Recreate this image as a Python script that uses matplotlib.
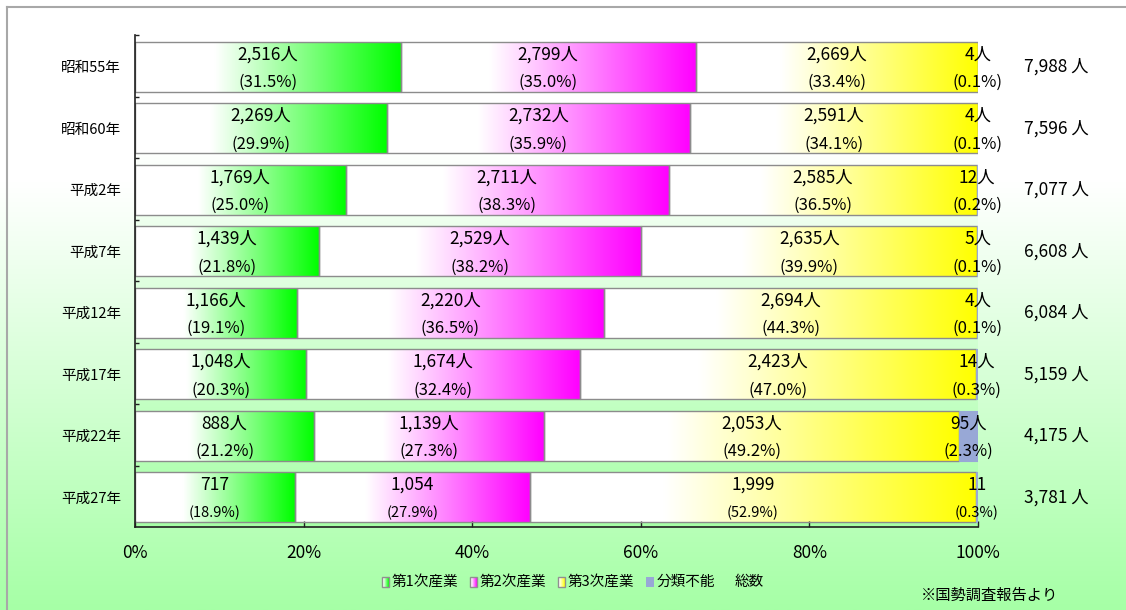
import numpy as np
import matplotlib
matplotlib.use("Agg")
import matplotlib.pyplot as plt
from matplotlib.colors import to_rgb
from matplotlib.patches import Rectangle

# ---------------- data ----------------
years = ['昭和55年', '昭和60年', '平成2年', '平成7年', '平成12年', '平成17年', '平成22年', '平成27年']
primary = [2516, 2269, 1769, 1439, 1166, 1048, 888, 717]
secondary = [2799, 2732, 2711, 2529, 2220, 1674, 1139, 1054]
tertiary = [2669, 2591, 2585, 2635, 2694, 2423, 2053, 1999]
unknown = [4, 4, 12, 5, 4, 14, 95, 11]
totals = [7988, 7596, 7077, 6608, 6084, 5159, 4175, 3781]
pct_primary = [31.5, 29.9, 25.0, 21.8, 19.1, 20.3, 21.2, 18.9]
pct_secondary = [35.0, 35.9, 38.3, 38.2, 36.5, 32.4, 27.3, 27.9]
pct_tertiary = [33.4, 34.1, 36.5, 39.9, 44.3, 47.0, 49.2, 52.9]
pct_unknown = [0.1, 0.1, 0.2, 0.1, 0.1, 0.3, 2.3, 0.3]
count_suffix = ['人', '人', '人', '人', '人', '人', '人', '']
x_ticks = [0, 20, 40, 60, 80, 100]
legend_labels = ['第1次産業', '第2次産業', '第3次産業', '分類不能', '総数']
source_note = '※国勢調査報告より'

# ---------------- style ----------------
W, H = 1126, 610
AX_L, AX_R, AX_T, AX_B = 135, 978, 35, 527
C_GREEN, C_PINK, C_YELLOW, C_UNK = '#00ff00', '#ff00ff', '#ffff00', '#98a8d6'
EDGE = '#8c8c8c'
NARROW = ['Noto Sans CJK JP', 'DejaVu Sans']
CJK = ['Noto Sans CJK JP', 'DejaVu Sans']
BAR_H = 0.81
BAR_OFF = 0.015


def grad_row(color, n=256, start=0.3):
    c = np.array(to_rgb(color))
    t = np.linspace(0, 1, n)
    f = np.clip((t - start) / (1 - start), 0, 1)[:, None]
    return (np.ones(3) * (1 - f) + c * f)[None, :, :]


def vgrad(n, start, bottom_rgb):
    c = np.array(bottom_rgb) / 255.0
    t = np.linspace(0, 1, n)
    f = np.clip((t - start) / (1 - start), 0, 1)[:, None]
    col = np.ones(3) * (1 - f) + c * f
    return col[:, None, :]


fig = plt.figure(figsize=(W / 100, H / 100), dpi=100)

# background overlay axes in pixel coords
bg = fig.add_axes([0, 0, 1, 1], zorder=0)
bg.set_xlim(0, W)
bg.set_ylim(H, 0)
bg.axis('off')
bg.imshow(vgrad(400, 0.3, (166, 255, 166)), extent=[0, W, H, 0], aspect='auto', interpolation='bilinear')
bg.imshow(vgrad(400, 0.23, (166, 255, 166)), extent=[AX_L, AX_R, AX_B, AX_T], aspect='auto', interpolation='bilinear')
bg.plot([7, W], [7, 7], color='#a8a8a8', lw=1.5)
bg.plot([7, 7], [7, H], color='#a8a8a8', lw=1.5)
bg.set_xlim(0, W)
bg.set_ylim(H, 0)

# main axes
ax = fig.add_axes([AX_L / W, 1 - AX_B / H, (AX_R - AX_L) / W, (AX_B - AX_T) / H], zorder=1)
ax.patch.set_alpha(0)

n = len(years)
centers = np.arange(n) + BAR_OFF
series = [(primary, pct_primary, C_GREEN), (secondary, pct_secondary, C_PINK), (tertiary, pct_tertiary, C_YELLOW)]


def pct_size(i):
    return 12 if i < n - 1 else 10.5


for i in range(n):
    tot = totals[i]
    left = 0.0
    yc = centers[i]
    for vals, pcts, col in series:
        w = vals[i] / tot * 100
        ax.imshow(grad_row(col), extent=[left, left + w, yc + BAR_H / 2, yc - BAR_H / 2],
                  aspect='auto', interpolation='bilinear', zorder=1)
        ax.barh(yc, w, left=left, height=BAR_H, facecolor='none', edgecolor=EDGE, lw=1, zorder=2)
        cx = left + w / 2
        ax.text(cx, yc - 0.2, f"{vals[i]:,}{count_suffix[i]}", ha='center', va='center',
                fontsize=12.5, family=NARROW, zorder=5)
        ax.text(cx, yc + 0.255, f"({pcts[i]:.1f}%)", ha='center', va='center',
                fontsize=pct_size(i), family=NARROW, zorder=5)
        left += w
    w = unknown[i] / tot * 100
    ax.barh(yc, w, left=left, height=BAR_H, color=C_UNK, edgecolor=C_UNK, lw=0.8, zorder=2)
    cx = left + w / 2
    ax.text(cx, yc - 0.2, f"{unknown[i]:,}{count_suffix[i]}", ha='center', va='center',
            fontsize=12.5, family=NARROW, zorder=5)
    ax.text(cx, yc + 0.255, f"({pct_unknown[i]:.1f}%)", ha='center', va='center',
            fontsize=pct_size(i), family=NARROW, zorder=5)
    ax.text(109.3, yc, f"{tot:,} 人", ha='center', va='center', fontsize=12.5,
            family=NARROW, clip_on=False, zorder=5)

ax.set_xlim(0, 100)
ax.set_ylim(n - 0.5, -0.5)
ax.set_aspect('auto')

ax.set_xticks(x_ticks)
ax.set_xticklabels([f"{v}%" for v in x_ticks], family=NARROW, fontsize=12.5)
ax.tick_params(axis='x', direction='in', length=4.5, width=1, pad=12, colors='#202020', labelcolor='black')

ax.set_yticks(centers)
ax.set_yticklabels(years, family=CJK, fontsize=10.5)
ax.tick_params(axis='y', which='major', length=0, pad=10)
ax.set_yticks(np.arange(n) - 0.5, minor=True)
ax.tick_params(axis='y', which='minor', direction='in', length=3, width=1, colors='#202020')

for s in ['top', 'right']:
    ax.spines[s].set_visible(False)
for s in ['left', 'bottom']:
    ax.spines[s].set_color('#202020')
    ax.spines[s].set_linewidth(1.2)

# legend (manual, figure pixel coords)
leg_x = [382, 470, 558, 646, 735]
leg_y = 582
leg_colors = [C_GREEN, C_PINK, C_YELLOW, C_UNK, None]
for k, (lab, col) in enumerate(zip(legend_labels, leg_colors)):
    x = leg_x[k]
    if col is not None and k < 3:
        bg.imshow(grad_row(col, start=0.2), extent=[x, x + 7, leg_y + 5, leg_y - 5], aspect='auto', zorder=3)
        bg.add_patch(Rectangle((x, leg_y - 5), 7, 10, fill=False, edgecolor='#909090', lw=1, zorder=4))
        bg.text(x + 10, leg_y, lab, ha='left', va='center', fontsize=10.5, family=CJK)
    elif col is not None:
        bg.add_patch(Rectangle((x, leg_y - 5), 8, 10, facecolor=col, edgecolor='none', zorder=4))
        bg.text(x + 11, leg_y, lab, ha='left', va='center', fontsize=10.5, family=CJK)
    else:
        bg.text(x, leg_y, lab, ha='left', va='center', fontsize=10.5, family=CJK)

bg.text(1058, 595, source_note, ha='right', va='center', fontsize=11, family=CJK)
bg.set_xlim(0, W)
bg.set_ylim(H, 0)

fig.savefig('out.png', dpi=100)
